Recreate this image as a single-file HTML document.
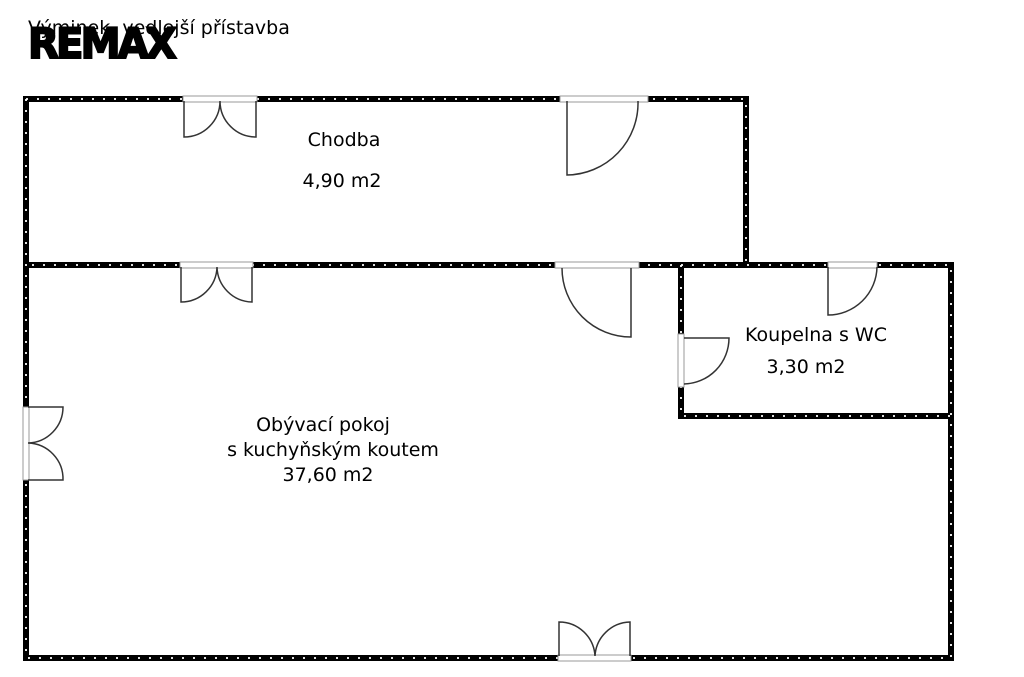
<!DOCTYPE html><html><head><style>body{margin:0;background:#fff}svg{display:block}</style></head><body>
<svg width="1024" height="677" viewBox="0 0 1024 677" font-family="DejaVu Sans, Liberation Sans, sans-serif">
<text x="28" y="58" font-size="42" font-weight="bold" fill="#000" letter-spacing="-3" textLength="146" lengthAdjust="spacingAndGlyphs" stroke="#000" stroke-width="2">REMAX</text>
<text x="28" y="34" font-size="19" fill="#000">Výminek, vedlejší přístavba</text>
<g stroke="#000" stroke-width="6" fill="none" stroke-linecap="square">
<path d="M26 99H746V265M26 99V658H951V265H26M681 265V416H951"/>
</g>
<g stroke="#fff" stroke-width="1.8" fill="none" stroke-dasharray="2 9">
<path d="M26 99H746V265M26 99V658H951V265H26M681 265V416H951"/>
</g>
<g fill="#fff" stroke="#999" stroke-width="1">
<rect x="183" y="96" width="74" height="6"/><rect x="560" y="96" width="88" height="6"/>
<rect x="180" y="262" width="73" height="6"/><rect x="555" y="262" width="84" height="6"/>
<rect x="828" y="262" width="49" height="6"/><rect x="678" y="334" width="6" height="53"/>
<rect x="23" y="407" width="6" height="73"/><rect x="558" y="655" width="73" height="6"/>
</g>
<g stroke="#333" stroke-width="1.5" fill="none">
<path d="M184 101V137A36 36 0 0 0 220 101A36 36 0 0 0 256 137V101"/>
<path d="M181 267V302A36 36 0 0 0 217 267A36 36 0 0 0 252 302V267"/>
<path d="M567 101V175A72 72 0 0 0 638 101"/>
<path d="M631 268V337A69 69 0 0 1 562 268"/>
<path d="M828 267V315A49 49 0 0 0 877 267"/>
<path d="M684 338H729A46 46 0 0 1 684 384"/>
<path d="M28 407H63A36 36 0 0 1 28 443A36 36 0 0 1 63 480H28"/>
<path d="M559 656V622A36 36 0 0 1 595 656A36 36 0 0 1 630 622V656"/>
</g>
<g font-size="19" fill="#000" text-anchor="middle">
<text x="344" y="146">Chodba</text>
<text x="342" y="187">4,90 m2</text>
<text x="816" y="341">Koupelna s WC</text>
<text x="806" y="373">3,30 m2</text>
<text x="323" y="431">Obývací pokoj</text>
<text x="333" y="456">s kuchyňským koutem</text>
<text x="328" y="481">37,60 m2</text>
</g>
</svg></body></html>
